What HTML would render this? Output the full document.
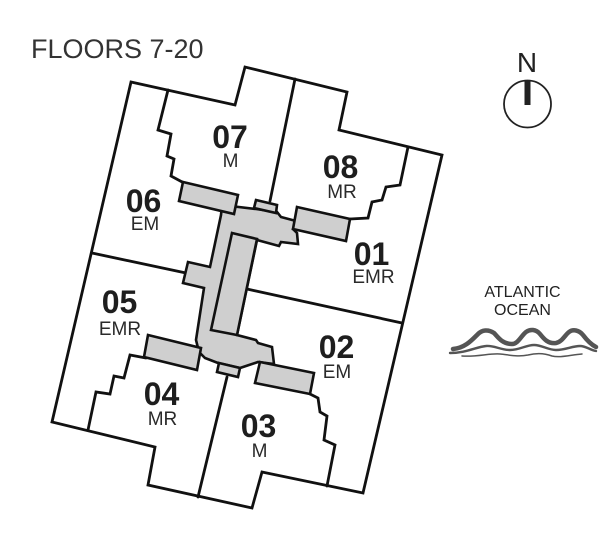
<!DOCTYPE html>
<html>
<head>
<meta charset="utf-8">
<style>
  html, body { margin:0; padding:0; background:#ffffff; }
  body { width:612px; height:553px; overflow:hidden; }
  svg { display:block; }
  .num { font-family:"Liberation Sans", Arial, sans-serif; font-weight:bold; font-size:32px; fill:#1e1e1e; }
  .sub { font-family:"Liberation Sans", Arial, sans-serif; font-size:19px; fill:#2a2a2a; }
</style>
</head>
<body>
<svg width="612" height="553" viewBox="0 0 612 553" xmlns="http://www.w3.org/2000/svg">
  <rect width="612" height="553" fill="#ffffff"/>

  <!-- Title -->
  <text x="31" y="58" font-family="Liberation Sans, Arial, sans-serif" font-size="27" fill="#333">FLOORS 7-20</text>

  <!-- Building outline -->
  <g fill="none" stroke="#111" stroke-width="2.8" stroke-linejoin="miter" stroke-linecap="round">
    <polygon fill="#ffffff" points="131,82 235,105 245,67 347,92 339,130 442,155 363,493 262,472 252,508 148,485 155,447 52,422"/>

    <polyline points="295,79 270,201"/>
    <polyline points="168,90 158,130 171,134 167,156 174,159 171,176 184,183"/>
    <polyline points="408,147 400,185 386,187 382,200 372,202 368,218 350,219"/>
    <polyline points="92,253 186,273"/>
    <polyline points="247,289 402,323"/>
    <polyline points="88,430 96,392 110,394 114,376 124,378 130,355 146,358"/>
    <polyline points="227,377 198,497"/>
    <polyline points="310,394 318,398 320,412 327,416 324,440 335,445 327,486"/>
  </g>

  <!-- Core -->
  <g fill="#cfcfcf" stroke="#111" stroke-width="2.6" stroke-linejoin="miter">
    <polygon points="222,205 256,209 277,212 281,217 296,221 293,229 297,233 298,244 281,242 279,246 257,240 237,335 256,340 258,343 272,347 274,364 258,362 240,368 218,363 205,358 199,352 196,340 204,288 183,283 188,262 210,267 221,215"/>
    <polygon points="232,233 257,239 237,335 211,330"/>
    <polygon points="183,182 238,195 234,214 179,201"/>
    <polygon points="297,207 350,219 346,241 293,229"/>
    <polygon points="148,335 201,348 197,370 144,357"/>
    <polygon points="260,362 314,373 310,394 255,383"/>
    <polygon points="256,200 277,205 276,213 254,208"/>
    <polygon points="219,363 240,368 238,377 217,372"/>
  </g>

  <!-- Unit labels -->
  <g text-anchor="middle">
    <text class="num" x="230" y="148">07</text>
    <text class="sub" x="230.5" y="167">M</text>

    <text class="num" x="340.5" y="178">08</text>
    <text class="sub" x="342" y="198">MR</text>

    <text class="num" x="143.5" y="212">06</text>
    <text class="sub" x="145" y="230">EM</text>

    <text class="num" x="371.5" y="265">01</text>
    <text class="sub" x="373.5" y="283">EMR</text>

    <text class="num" x="119.5" y="313">05</text>
    <text class="sub" x="120" y="335">EMR</text>

    <text class="num" x="336.5" y="358">02</text>
    <text class="sub" x="337" y="378">EM</text>

    <text class="num" x="161.5" y="405">04</text>
    <text class="sub" x="162.5" y="425">MR</text>

    <text class="num" x="258.5" y="437">03</text>
    <text class="sub" x="259.5" y="457">M</text>
  </g>

  <!-- Compass -->
  <text x="527" y="72" text-anchor="middle" font-family="Liberation Sans, Arial, sans-serif" font-size="28" fill="#222">N</text>
  <circle cx="527.5" cy="104" r="23.5" fill="none" stroke="#222" stroke-width="1.8"/>
  <rect x="524.5" y="81" width="6" height="24" fill="#222"/>

  <!-- Atlantic Ocean -->
  <g text-anchor="middle" font-family="Liberation Sans, Arial, sans-serif" font-size="16" fill="#222">
    <text x="522.5" y="297">ATLANTIC</text>
    <text x="522.5" y="315">OCEAN</text>
  </g>

  <!-- Waves -->
  <g fill="none" stroke="#555" stroke-linecap="round" stroke-linejoin="round">
    <path stroke-width="4.5" d="M453,349 C465,348 472,340 478,334 C482,330 488,329 494,333 C498,337 502,344 512,344 C518,344 521,336 526,332 C530,329 536,329 540,334 C544,339 548,344 556,343 C562,342 565,335 569,332 C573,329 579,330 583,335 C586,339 590,344 596,347"/>
    <path stroke-width="2.4" d="M450,353 C466,353 476,347 486,346 C494,345 500,350 510,350 C520,350 526,345 534,345 C542,345 548,350 556,350 C566,350 572,346 580,346 C586,346 590,350 596,351"/>
    <path stroke-width="1.5" d="M462,356 C478,357 490,353 500,354 C510,355 518,357 528,355 C536,353 544,353 552,356 C560,358 570,355 582,354"/>
  </g>
</svg>
</body>
</html>
